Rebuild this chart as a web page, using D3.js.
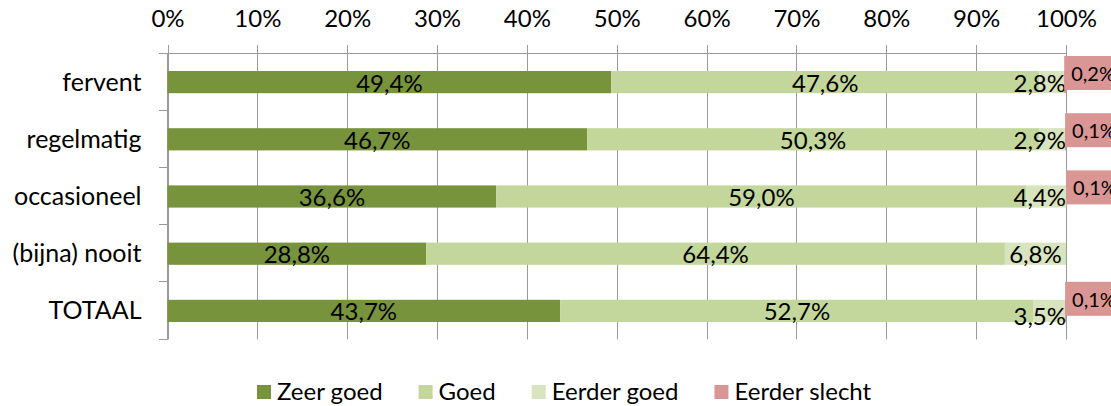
<!DOCTYPE html>
<html>
<head>
<meta charset="utf-8">
<script src="https://cdn.jsdelivr.net/npm/d3@7"></script>
<style>
  html, body { margin: 0; padding: 0; background: #fff; }
  svg { display: block; font-family: Lato, "Open Sans", sans-serif; }
</style>
</head>
<body>
<svg id="chart" width="1111" height="406"></svg>
<script>
const categories = ["fervent", "regelmatig", "occasioneel", "(bijna) nooit", "TOTAAL"];
const seriesNames = ["Zeer goed", "Goed", "Eerder goed", "Eerder slecht"];
const zeerGoed = [49.4, 46.7, 36.6, 28.8, 43.7];
const goed = [47.6, 50.3, 59.0, 64.4, 52.7];
const eerderGoed = [2.8, 2.9, 4.4, 6.8, 3.5];
const eerderSlecht = [0.2, 0.1, 0.1, null, 0.1];
const tickValues = [0, 10, 20, 30, 40, 50, 60, 70, 80, 90, 100];
const colors = ["#77933C", "#C3D69B", "#D7E4BD", "#D99694"];

const FS = 24;
const svg = d3.select("#chart");
const x = d3.scaleLinear().domain([0, 100]).range([167.5, 1066]);
const y = d3.scaleBand().domain(categories).range([53.5, 339.5]).padding(0);
const barH = 22.2;
const barTop = c => y(c) + (y.bandwidth() - barH) / 2;
const fmt = v => d3.format(".1f")(v).replace(".", ",") + "%";

const values = [zeerGoed, goed, eerderGoed, eerderSlecht];
const rows = categories.map((c, i) => {
  let acc = 0;
  const segs = values.map((arr, s) => {
    const v = arr[i] == null ? 0 : arr[i];
    const seg = { cat: c, s, v, raw: arr[i], x0: acc, x1: acc + v };
    acc += v;
    return seg;
  });
  return { cat: c, segs };
});

// gridlines
svg.append("g").selectAll("line").data(tickValues).join("line")
  .attr("x1", d => Math.round(x(d)) + 0.5).attr("x2", d => Math.round(x(d)) + 0.5)
  .attr("y1", 45).attr("y2", 339.5)
  .attr("stroke", "#9a9a9a").attr("stroke-width", 1);

// top axis line
svg.append("line").attr("x1", 159).attr("x2", x(100)).attr("y1", 53.5).attr("y2", 53.5)
  .attr("stroke", "#9a9a9a");

// top axis labels
const xAxis = d3.axisTop(x).tickValues(tickValues).tickSize(0).tickFormat(d => d + "%");
const gx = svg.append("g").attr("transform", "translate(0,27)").call(xAxis);
gx.select(".domain").remove();
gx.selectAll("text").attr("font-size", FS).attr("fill", "#000")
  .attr("font-family", "Lato, 'Open Sans', sans-serif").attr("dy", 0).attr("y", 0);

// left axis
svg.append("line").attr("x1", 167.5).attr("x2", 167.5).attr("y1", 53.5).attr("y2", 339.5)
  .attr("stroke", "#9a9a9a");
const bounds = categories.map(c => y(c)).concat([y.range()[1]]);
svg.append("g").selectAll("line").data(bounds).join("line")
  .attr("x1", 159).attr("x2", 167.5)
  .attr("y1", d => Math.round(d) - 0.5).attr("y2", d => Math.round(d) - 0.5)
  .attr("stroke", "#9a9a9a");

svg.append("g").selectAll("text").data(categories).join("text")
  .attr("x", 141.5).attr("y", c => y(c) + y.bandwidth() / 2 + 8.5)
  .attr("text-anchor", "end").attr("font-size", FS + 1).attr("fill", "#000")
  .text(c => c);

// bars
const barsG = svg.append("g");
rows.forEach(r => {
  barsG.selectAll(null).data(r.segs.filter(s => s.v > 0)).join("rect")
    .attr("x", s => x(s.x0)).attr("width", s => x(s.x1) - x(s.x0))
    .attr("y", barTop(r.cat)).attr("height", barH)
    .attr("fill", s => colors[s.s]);
});

// data labels
const labelsG = svg.append("g");
rows.forEach((r, ri) => {
  const cy = barTop(r.cat) + barH / 2;
  const last = ri === rows.length - 1;
  r.segs.slice(0, 3).forEach(s => {
    const t = labelsG.append("text")
      .attr("font-size", FS).attr("fill", "#000")
      .attr("text-anchor", "middle")
      .attr("y", cy + 9.5 + (last && s.s === 2 ? 5 : 0))
      .text(fmt(s.v));
    const w = t.node().getComputedTextLength();
    let cx = (x(s.x0) + x(s.x1)) / 2;
    if (cx + w / 2 > x(100)) cx = x(100) - w / 2;
    t.attr("x", cx);
  });
  const es = r.segs[3];
  if (es.raw != null) {
    const boxTop = barTop(r.cat) - 15 - (last ? 3 : 0);
    const g = labelsG.append("g");
    const t = g.append("text").attr("x", x(es.x0) + 7).attr("y", boxTop + 25)
      .attr("font-size", 20).attr("fill", "#000").text(fmt(es.v));
    const w = t.node().getComputedTextLength();
    g.insert("rect", "text").attr("x", x(es.x0)).attr("y", boxTop)
      .attr("width", w + 14).attr("height", 34).attr("fill", colors[3]);
  }
});

// legend
const legend = svg.append("g");
let lx = 257;
seriesNames.forEach((name, i) => {
  legend.append("rect").attr("x", lx).attr("y", 385).attr("width", 14).attr("height", 14)
    .attr("fill", colors[i]);
  const t = legend.append("text").attr("x", lx + 20).attr("y", 400)
    .attr("font-size", FS).attr("fill", "#000").text(name);
  lx += 20 + t.node().getComputedTextLength() + 36;
});
</script>
</body>
</html>
